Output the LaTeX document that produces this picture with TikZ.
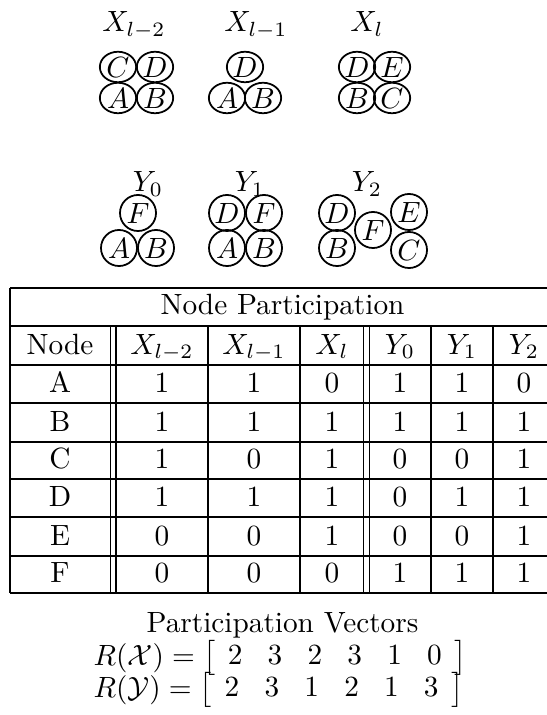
\documentclass[tikz,border=0pt]{standalone}
\usepackage{amsmath,amssymb}
\usetikzlibrary{shapes.geometric}

\tikzset{
	vtx/.style={circle, draw, line width=0.6pt, minimum size=12.3pt, inner sep=0pt},
	vtxsq/.style={ellipse, draw, line width=0.6pt, minimum width=12.4pt, minimum height=10.4pt, inner sep=0pt},
	lbl/.style={anchor=base, inner sep=0pt},
	cell/.style={anchor=base, inner sep=0pt},
	rule/.style={line width=0.45pt}
}

\begin{document}
\begin{tikzpicture}[x=0.3413pt,y=-0.3413pt]
	\useasboundingbox (0,0) rectangle (546,715);
	
	% graphs X
	\node[lbl] (lXa) at (134,32) {$X_{l-2}$};
	\node[lbl] (lXb) at (256,32) {$X_{l-1}$};
	\node[lbl] (lXc) at (367,32) {$X_l$};
	
	\node[vtxsq] (xaC) at (118,67) {$C$};
	\node[vtxsq] (xaD) at (155,67) {$D$};
	\node[vtxsq] (xaA) at (118,98) {$A$};
	\node[vtxsq] (xaB) at (155,98) {$B$};
	
	\node[vtxsq] (xbD) at (245,67) {$D$};
	\node[vtxsq] (xbA) at (227,98) {$A$};
	\node[vtxsq] (xbB) at (263,98) {$B$};
	
	\node[vtxsq] (xcD) at (357,67) {$D$};
	\node[vtxsq] (xcE) at (392,67) {$E$};
	\node[vtxsq] (xcB) at (357,98) {$B$};
	\node[vtxsq] (xcC) at (392,98) {$C$};
	
	% graphs Y
	\node[lbl] (lYa) at (148,192) {$Y_0$};
	\node[lbl] (lYb) at (250,192) {$Y_1$};
	\node[lbl] (lYc) at (367,192) {$Y_2$};
	
	\node[vtx] (yaF) at (138,213) {$F$};
	\node[vtx] (yaA) at (119,248) {$A$};
	\node[vtx] (yaB) at (156,248) {$B$};
	
	\node[vtx] (ybD) at (227,213) {$D$};
	\node[vtx] (ybF) at (264,213) {$F$};
	\node[vtx] (ybA) at (227,248) {$A$};
	\node[vtx] (ybB) at (264,248) {$B$};
	
	\node[vtx] (ycD) at (337,213) {$D$};
	\node[vtx] (ycB) at (337,248) {$B$};
	\node[vtx] (ycF) at (373,230) {$F$};
	\node[vtx] (ycE) at (409,212) {$E$};
	\node[vtx] (ycC) at (409,250) {$C$};
	
	% table
	\draw[rule] (10,288) -- (555,288);
	\draw[rule] (10,326) -- (555,326);
	\draw[rule] (10,365) -- (555,365);
	\draw[rule] (10,403) -- (555,403);
	\draw[rule] (10,442) -- (555,442);
	\draw[rule] (10,479) -- (555,479);
	\draw[rule] (10,517) -- (555,517);
	\draw[rule] (10,556) -- (555,556);
	\draw[rule] (10,593) -- (555,593);
	
	\draw[rule] (10,288) -- (10,593);
	\draw[rule] (555,288) -- (555,593);
	\draw[rule] (110.5,326) -- (110.5,593);
	\draw[rule] (116,326) -- (116,593);
	\draw[rule] (208,326) -- (208,593);
	\draw[rule] (300,326) -- (300,593);
	\draw[rule] (363.5,326) -- (363.5,593);
	\draw[rule] (369.5,326) -- (369.5,593);
	\draw[rule] (431,326) -- (431,593);
	\draw[rule] (493,326) -- (493,593);
	
	\node[cell] (title) at (282.5,315) {Node Participation};
	
	\node[cell] (hN) at (60,354) {Node};
	\node[cell] (h1) at (162,354) {$X_{l-2}$};
	\node[cell] (h2) at (254,354) {$X_{l-1}$};
	\node[cell] (h3) at (332,354) {$X_l$};
	\node[cell] (h4) at (400,354) {$Y_0$};
	\node[cell] (h5) at (462,354) {$Y_1$};
	\node[cell] (h6) at (524,354) {$Y_2$};
	
	\node[cell] (rA) at (60,392) {A};
	\node[cell] (rA1) at (162,392) {1};
	\node[cell] (rA2) at (254,392) {1};
	\node[cell] (rA3) at (332,392) {0};
	\node[cell] (rA4) at (400,392) {1};
	\node[cell] (rA5) at (462,392) {1};
	\node[cell] (rA6) at (524,392) {0};
	
	\node[cell] (rB) at (60,431) {B};
	\node[cell] (rB1) at (162,431) {1};
	\node[cell] (rB2) at (254,431) {1};
	\node[cell] (rB3) at (332,431) {1};
	\node[cell] (rB4) at (400,431) {1};
	\node[cell] (rB5) at (462,431) {1};
	\node[cell] (rB6) at (524,431) {1};
	
	\node[cell] (rC) at (60,468) {C};
	\node[cell] (rC1) at (162,468) {1};
	\node[cell] (rC2) at (254,468) {0};
	\node[cell] (rC3) at (332,468) {1};
	\node[cell] (rC4) at (400,468) {0};
	\node[cell] (rC5) at (462,468) {0};
	\node[cell] (rC6) at (524,468) {1};
	
	\node[cell] (rD) at (60,506) {D};
	\node[cell] (rD1) at (162,506) {1};
	\node[cell] (rD2) at (254,506) {1};
	\node[cell] (rD3) at (332,506) {1};
	\node[cell] (rD4) at (400,506) {0};
	\node[cell] (rD5) at (462,506) {1};
	\node[cell] (rD6) at (524,506) {1};
	
	\node[cell] (rE) at (60,545) {E};
	\node[cell] (rE1) at (162,545) {0};
	\node[cell] (rE2) at (254,545) {0};
	\node[cell] (rE3) at (332,545) {1};
	\node[cell] (rE4) at (400,545) {0};
	\node[cell] (rE5) at (462,545) {0};
	\node[cell] (rE6) at (524,545) {1};
	
	\node[cell] (rF) at (60,582) {F};
	\node[cell] (rF1) at (162,582) {0};
	\node[cell] (rF2) at (254,582) {0};
	\node[cell] (rF3) at (332,582) {0};
	\node[cell] (rF4) at (400,582) {1};
	\node[cell] (rF5) at (462,582) {1};
	\node[cell] (rF6) at (524,582) {1};
	
	% vectors
	\node[cell] (pvec) at (282.5,632) {Participation Vectors};
	\node[cell, anchor=base west] (vecX) at (93,665) {\arraycolsep=4.3pt
		$R(\mathcal{X}) = \left[\begin{array}{cccccc} 2 & 3 & 2 & 3 & 1 & 0 \end{array}\right]$};
	\node[cell, anchor=base west] (vecY) at (93,697) {\arraycolsep=4.3pt
		$R(\mathcal{Y}) = \left[\begin{array}{cccccc} 2 & 3 & 1 & 2 & 1 & 3 \end{array}\right]$};
	
\end{tikzpicture}
\end{document}
